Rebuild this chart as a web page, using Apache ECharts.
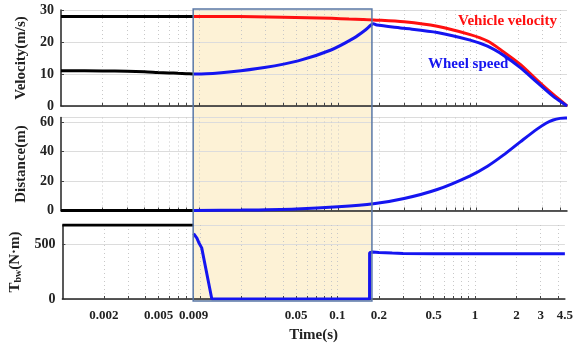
<!DOCTYPE html>
<html>
<head>
<meta charset="utf-8">
<script src="https://cdn.jsdelivr.net/npm/echarts@6/dist/echarts.min.js"></script>
<style>
  html, body { margin: 0; padding: 0; background: #fff; }
  #chart { width: 576px; height: 344px; }
</style>
</head>
<body>
<div id="chart"></div>
<script>
// time (s), log scale
var xLabelValues = [0.002, 0.005, 0.009, 0.05, 0.1, 0.2, 0.5, 1, 2, 3, 4.5];
var xTickValues = [0.002, 0.003, 0.004, 0.005, 0.006, 0.007, 0.008, 0.009,
  0.01, 0.02, 0.03, 0.04, 0.05, 0.06, 0.07, 0.08, 0.09,
  0.1, 0.2, 0.3, 0.4, 0.5, 0.6, 0.7, 0.8, 0.9, 1, 2, 3, 4];

// before braking (black)
var tPre = [0.001, 0.002, 0.003, 0.004, 0.005, 0.006, 0.007, 0.008, 0.009];
var vehiclePre = [28, 28, 28, 28, 28, 28, 28, 28, 28];
var wheelPre = [11.0, 10.95, 10.85, 10.7, 10.5, 10.35, 10.2, 10.1, 10.0];
var distPre = [0, 0, 0, 0, 0, 0, 0, 0, 0];
var torquePre = [680, 680, 680, 680, 680, 680, 680, 680, 680];

// vehicle velocity (red)
var tVehicle = [0.009, 0.015, 0.025, 0.04, 0.06, 0.09, 0.12, 0.15, 0.18, 0.3, 0.52, 0.9, 1.2, 1.56, 2.07, 2.75, 3.2, 3.58, 4.0, 4.37, 4.5];
var vehicle = [28.0, 27.95, 27.9, 27.75, 27.6, 27.4, 27.2, 27.05, 26.9, 26.3, 24.9, 22.3, 20.3, 17.0, 13.0, 8.0, 5.4, 3.6, 1.9, 0.5, 0];

// wheel speed (blue)
var tWheel = [0.009, 0.0103, 0.017, 0.0294, 0.0515, 0.089, 0.13, 0.155, 0.173, 0.18, 0.19, 0.3, 0.52, 0.9, 1.2, 1.56, 2.07, 2.75, 3.58, 4.37, 4.5];
var wheel = [10.0, 10.0, 10.7, 12.0, 14.1, 17.5, 21.2, 23.5, 25.3, 25.7, 25.3, 24.3, 23.0, 20.6, 18.7, 15.9, 12.0, 7.3, 3.0, 0.4, 0];

// distance (blue)
var tDist = [0.009, 0.02, 0.05, 0.1, 0.18, 0.3, 0.52, 0.9, 1.2, 1.56, 2.07, 2.75, 3.2, 3.58, 4.0, 4.37, 4.5];
var dist = [0, 0.3, 1.1, 2.5, 4.5, 8.1, 14.2, 23.5, 30, 37.5, 46.5, 55.3, 59.3, 61.3, 62.4, 62.7, 62.7];

// braking torque (blue)
var tTorque = [0.009, 0.0095, 0.0098, 0.0103, 0.0122, 0.05, 0.171, 0.1712, 0.175, 0.18, 0.2, 0.25, 0.3, 0.5, 1, 2, 4.5];
var torque = [600, 560, 520, 470, 0, 0, 0, 425, 430, 432, 428, 422, 418, 415, 415, 415, 415];

var brakeStart = 0.009, brakeEnd = 0.178;

function pairs(t, v) {
  return t.map(function (x, i) { return [x, v[i]]; });
}

var FONT = '"Liberation Serif", "Times New Roman", serif';

function xAxisCfg(idx, showLabel) {
  return {
    type: 'log', logBase: 10, gridIndex: idx, min: 0.001, max: 4.5,
    axisLine: { show: true, onZero: false, lineStyle: { color: '#222', width: 1.5 } },
    axisTick: { show: true, inside: true, length: 3, customValues: xTickValues, lineStyle: { color: '#444' } },
    axisLabel: {
      show: showLabel, customValues: xLabelValues, margin: 10,
      fontFamily: FONT, fontWeight: 'bold', fontSize: 13, color: '#222',
      formatter: function (v) { return String(+(+v).toPrecision(3)); }
    },
    splitLine: { show: true, lineStyle: { color: '#c8c8c8', type: [1, 3], width: 1 } },
    name: showLabel ? 'Time(s)' : '',
    nameLocation: 'middle', nameGap: 29,
    nameTextStyle: { fontFamily: FONT, fontWeight: 'bold', fontSize: 15, color: '#222' }
  };
}

function yAxisCfg(idx, max, interval, name) {
  return {
    type: 'value', gridIndex: idx, min: 0, max: max, interval: interval,
    axisLine: { show: true, lineStyle: { color: '#222', width: 1.5 } },
    axisTick: { show: true, inside: true, length: 3, lineStyle: { color: '#444' } },
    axisLabel: { showMaxLabel: max % interval === 0, margin: 7, fontFamily: FONT, fontWeight: 'bold', fontSize: 14, color: '#222' },
    splitLine: { show: true, lineStyle: { color: '#dcdcdc', width: 1 } },
    name: name, nameLocation: 'middle', nameGap: 27,
    nameTextStyle: {
      fontFamily: FONT, fontWeight: 'bold', fontSize: 15, color: '#222',
      rich: {
        sub: { fontFamily: FONT, fontWeight: 'bold', fontSize: 10, color: '#222', verticalAlign: 'bottom', padding: [6, 0, 0, 0] }
      }
    }
  };
}

function line(idx, data, color, smooth, z) {
  return {
    type: 'line', xAxisIndex: idx, yAxisIndex: idx, data: data,
    showSymbol: false, smooth: smooth || false, z: z || 3, animation: false,
    lineStyle: { color: color, width: 3 }
  };
}

var myChart = echarts.init(document.querySelector('#chart'));
var option = {
  backgroundColor: '#fff',
  animation: false,
  grid: [
    { left: 61, right: 9, top: 10, height: 96 },
    { left: 61, right: 9, top: 117.5, height: 93 },
    { left: 61, right: 9, top: 225, height: 75.7 }
  ],
  xAxis: [xAxisCfg(0, false), xAxisCfg(1, false), xAxisCfg(2, true)],
  yAxis: [
    yAxisCfg(0, 30, 10, 'Velocity(m/s)'),
    yAxisCfg(1, 63, 20, 'Distance(m)'),
    yAxisCfg(2, 680, 500, 'T{sub|bw}(N·m)')
  ],
  series: [
    line(0, pairs(tPre, vehiclePre), '#000'),
    line(0, pairs(tPre, wheelPre), '#000', 0.3),
    line(0, pairs(tVehicle, vehicle), '#ff1010', 0.3, 3),
    line(0, pairs(tWheel, wheel), '#1515f0', 0.25, 4),
    line(1, pairs(tPre, distPre), '#000'),
    line(1, pairs(tDist, dist), '#1515f0', 0.3),
    line(2, pairs(tPre, torquePre), '#000'),
    line(2, pairs(tTorque, torque), '#1515f0')
  ]
};
myChart.setOption(option);

// braking window drawn from the axis scales
var p1 = myChart.convertToPixel({ xAxisIndex: 0, yAxisIndex: 0 }, [brakeStart, 30]);
var p2 = myChart.convertToPixel({ xAxisIndex: 2, yAxisIndex: 2 }, [brakeEnd, 0]);
var rectShape = { x: p1[0], y: p1[1] - 1, width: p2[0] - p1[0], height: p2[1] - p1[1] + 3 };
myChart.setOption({
  graphic: [
    { type: 'rect', z: -1, shape: rectShape, style: { fill: '#fdf2d6' } },
    { type: 'rect', z: 10, shape: rectShape, style: { fill: 'none', stroke: '#5a78a8', lineWidth: 1.5 } },
    { type: 'text', z: 10, left: 458, top: 14, style: { text: 'Vehicle velocity', fill: '#ff1010', font: 'bold 15px ' + FONT } },
    { type: 'text', z: 10, left: 428, top: 57, style: { text: 'Wheel speed', fill: '#1515f0', font: 'bold 15px ' + FONT } }
  ]
});
window.addEventListener('resize', function () {
  myChart.resize();
});
</script>
</body>
</html>
